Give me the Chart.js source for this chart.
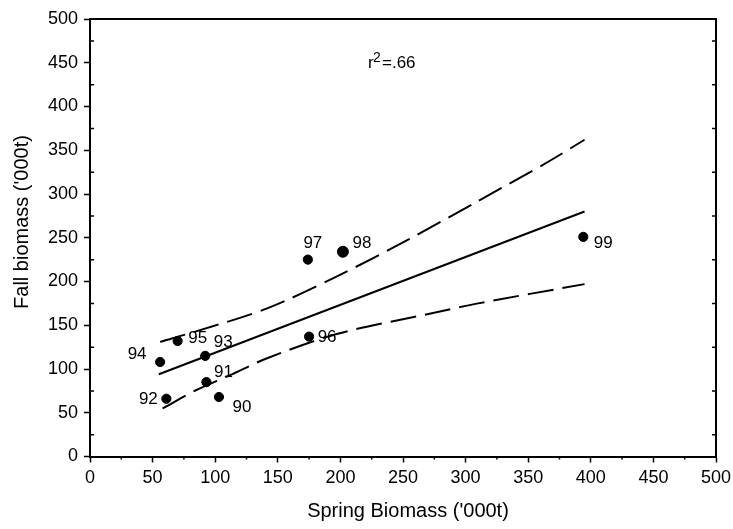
<!DOCTYPE html>
<html lang="en">
<head>
    <meta charset="UTF-8">
    <title>Fall vs Spring Biomass</title>
    <script src="https://cdn.jsdelivr.net/npm/chart.js"></script>
    <style>
        body {
            margin: 0;
            background-color: #ffffff;
        }
        .chart-box {
            width: 733px;
            height: 529px;
        }
    </style>
</head>
<body>
    <div class="chart-box">
        <canvas id="biomassChart"></canvas>
    </div>

    <script>
        // Survey years and biomass values ('000t)
        const years = ['90', '91', '92', '93', '94', '95', '96', '97', '98', '99'];
        const springBiomass = [103, 93, 61, 92, 56, 70, 175, 174, 202, 394];
        const fallBiomass = [68, 85, 66, 115, 108, 132, 137, 225, 234, 251];

        // Regression line end points
        const fitX = [55, 395];
        const fitY = [94, 280];

        // Confidence band
        const upperX = [56, 80, 141, 196, 253, 310, 365, 395];
        const upperY = [131, 141, 169, 205, 247, 292, 336, 362];
        const lowerX = [58, 85, 112, 141, 197, 274, 310, 395];
        const lowerY = [55, 76, 93, 112, 140, 164, 175, 197];

        const axisTicks = [0, 50, 100, 150, 200, 250, 300, 350, 400, 450, 500];
        const xTitle = "Spring Biomass ('000t)";
        const yTitle = "Fall biomass ('000t)";
        const r2Text = '=.66';

        const FONT = '"Liberation Sans", Arial, sans-serif';

        function toPoints(xs, ys) {
            return xs.map((x, i) => ({ x: x, y: ys[i] }));
        }

        // label offsets from the dot centre, in pixels
        const labelOffsets = [
            [23, 10], [17, -10], [-18, 1], [18, -14], [-23, -8],
            [20, -3], [18, 1], [5, -16], [19, -8], [20, 6]
        ];

        // frame, minor ticks, titles and the point labels
        const extrasPlugin = {
            id: 'extras',
            afterDraw(chart) {
                const ctx = chart.ctx;
                const xs = chart.scales.x;
                const ys = chart.scales.y;
                const area = chart.chartArea;
                ctx.save();
                ctx.strokeStyle = '#000';
                ctx.lineWidth = 2;
                ctx.beginPath();
                ctx.moveTo(area.left, area.top);
                ctx.lineTo(area.right, area.top);
                ctx.lineTo(area.right, area.bottom);
                ctx.stroke();

                // minor ticks
                ctx.lineWidth = 1.5;
                for (let v = 25; v < 500; v += 50) {
                    const px = xs.getPixelForValue(v);
                    ctx.beginPath();
                    ctx.moveTo(px, area.bottom);
                    ctx.lineTo(px, area.bottom + 3);
                    ctx.stroke();
                    const py = ys.getPixelForValue(v);
                    ctx.beginPath();
                    ctx.moveTo(area.left, py);
                    ctx.lineTo(area.left + 4, py);
                    ctx.moveTo(area.right, py);
                    ctx.lineTo(area.right - 4, py);
                    ctx.stroke();
                }

                // year labels
                ctx.fillStyle = '#000';
                ctx.font = '17px ' + FONT;
                ctx.textAlign = 'center';
                ctx.textBaseline = 'middle';
                const meta = chart.getDatasetMeta(0);
                meta.data.forEach((pt, i) => {
                    const off = labelOffsets[i];
                    ctx.fillText(years[i], pt.x + off[0], pt.y + off[1]);
                });

                // axis titles
                ctx.font = '20px ' + FONT;
                ctx.fillText(xTitle, 408, 511);
                ctx.save();
                ctx.translate(22, 222);
                ctx.rotate(-Math.PI / 2);
                ctx.fillText(yTitle, 0, 0);
                ctx.restore();

                // r squared note
                ctx.textAlign = 'left';
                ctx.textBaseline = 'alphabetic';
                ctx.font = '17px ' + FONT;
                ctx.fillText('r', 368, 68);
                ctx.font = '14px ' + FONT;
                ctx.fillText('2', 373, 62);
                ctx.font = '17px ' + FONT;
                ctx.fillText(r2Text, 382, 68);
                ctx.restore();
            }
        };

        const ctx = document.getElementById('biomassChart').getContext('2d');
        const biomassChart = new Chart(ctx, {
            type: 'scatter',
            data: {
                datasets: [
                    {
                        label: 'Years',
                        data: toPoints(springBiomass, fallBiomass),
                        backgroundColor: '#000',
                        borderColor: '#000',
                        pointRadius: (c) => (c.dataIndex === 8 ? 5.5 : 4.6),
                        pointHoverRadius: 5
                    },
                    {
                        label: 'Fit',
                        data: toPoints(fitX, fitY),
                        showLine: true,
                        borderColor: '#000',
                        borderWidth: 2,
                        pointRadius: 0
                    },
                    {
                        label: 'Upper',
                        data: toPoints(upperX, upperY),
                        showLine: true,
                        borderColor: '#000',
                        borderWidth: 2,
                        borderDash: [26, 9],
                        tension: 0.3,
                        pointRadius: 0
                    },
                    {
                        label: 'Lower',
                        data: toPoints(lowerX, lowerY),
                        showLine: true,
                        borderColor: '#000',
                        borderWidth: 2,
                        borderDash: [26, 9],
                        tension: 0.3,
                        pointRadius: 0
                    }
                ]
            },
            options: {
                responsive: true,
                maintainAspectRatio: false,
                animation: false,
                layout: {
                    padding: { left: 0, right: 17, top: 19, bottom: 0 }
                },
                plugins: {
                    legend: { display: false },
                    tooltip: { enabled: false }
                },
                scales: {
                    x: {
                        type: 'linear',
                        min: 0,
                        max: 500,
                        afterBuildTicks: (s) => { s.ticks = axisTicks.map(v => ({ value: v })); },
                        afterFit: (s) => {
                            s.height = 72.5;
                            s.paddingLeft = 0;
                            s.paddingRight = 0;
                        },
                        border: { display: true, color: '#000', width: 2 },
                        grid: {
                            drawOnChartArea: false,
                            drawTicks: true,
                            tickLength: 6,
                            tickWidth: 1.5,
                            color: '#000'
                        },
                        ticks: {
                            color: '#000',
                            padding: 5,
                            maxRotation: 0,
                            font: { family: FONT, size: 18 }
                        }
                    },
                    y: {
                        type: 'linear',
                        min: 0,
                        max: 500,
                        afterBuildTicks: (s) => { s.ticks = axisTicks.map(v => ({ value: v })); },
                        afterFit: (s) => {
                            s.width = 90;
                            s.paddingTop = 0;
                            s.paddingBottom = 0;
                        },
                        border: { display: true, color: '#000', width: 2 },
                        grid: {
                            drawOnChartArea: false,
                            drawTicks: true,
                            tickLength: 6,
                            tickWidth: 1.5,
                            color: '#000'
                        },
                        ticks: {
                            color: '#000',
                            padding: 6,
                            font: { family: FONT, size: 18 }
                        }
                    }
                }
            },
            plugins: [extrasPlugin]
        });
    </script>
</body>
</html>
